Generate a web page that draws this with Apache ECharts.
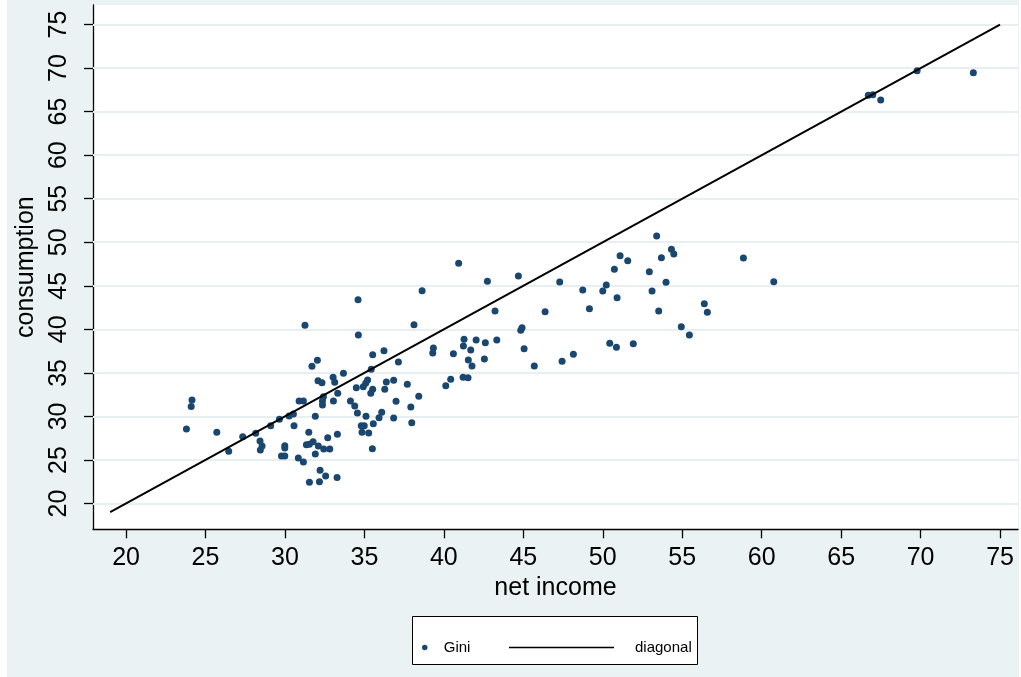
<!DOCTYPE html>
<html>
<head>
<meta charset="utf-8">
<title>Gini: consumption vs net income</title>
<script src="https://cdn.jsdelivr.net/npm/echarts@6/dist/echarts.min.js"></script>
<style>
  html, body { margin: 0; padding: 0; background: #ffffff; }
  #chart { width: 1021px; height: 677px; }
</style>
</head>
<body>
<div id="chart"></div>
<script>
// Gini coefficients: net income (x) vs consumption (y)
const giniIncome = [
  31.26, 32.04, 31.70, 33.68, 32.08, 32.33, 33.03, 33.13, 34.49, 24.15,
  24.10, 30.89, 31.16, 32.42, 32.36, 32.36, 33.05, 33.32, 34.12, 34.39,
  34.56, 31.91, 30.26, 30.53, 29.65, 29.10, 28.16, 27.34, 25.71, 23.80,
  26.46, 28.43, 28.56, 28.45, 30.57, 31.50, 31.35, 31.54, 31.77, 32.10,
  32.44, 32.82, 32.69, 33.30, 31.91, 29.99, 29.99, 29.78, 29.99, 30.84,
  31.16, 32.21, 31.54, 32.17, 32.56, 33.28,
  38.63, 34.60, 38.12, 34.62, 39.34, 39.30, 40.60, 35.52, 36.23, 37.14,
  35.43, 35.20, 35.08, 34.93, 36.38, 36.28, 36.84, 37.70, 35.52, 35.40,
  35.10, 35.92, 36.09, 36.99, 37.92, 38.42, 36.84, 37.98, 35.56, 34.80,
  34.99, 34.85, 35.27, 35.50,
  40.93, 44.69, 42.74, 47.29, 43.22, 46.37, 44.84, 44.92, 41.27, 41.23,
  42.03, 42.61, 43.33, 41.69, 42.55, 41.54, 41.77, 45.05, 45.69, 47.44,
  48.15, 41.21, 41.52, 40.43, 40.12,
  53.39, 54.32, 54.47, 53.69, 51.09, 51.57, 50.73, 52.93, 58.85, 50.22,
  50.00, 48.74, 53.98, 53.10, 50.90, 60.76, 49.16, 53.52, 56.39, 56.58,
  54.94, 55.45, 50.44, 50.86, 51.92,
  66.71, 66.99, 67.49, 69.78, 73.32
];
const giniConsumption = [
  40.46, 36.44, 35.75, 34.95, 34.10, 33.87, 34.49, 33.92, 33.30, 31.90,
  31.15, 31.77, 31.77, 32.26, 31.77, 31.31, 31.77, 32.65, 31.77, 31.20,
  30.39, 30.01, 30.05, 30.28, 29.67, 28.93, 28.06, 27.67, 28.17, 28.55,
  26.00, 27.18, 26.60, 26.14, 28.93, 28.17, 26.75, 26.80, 27.10, 26.60,
  26.26, 26.26, 27.56, 27.95, 25.68, 26.64, 26.37, 25.45, 25.45, 25.22,
  24.77, 23.81, 22.43, 22.50, 23.16, 23.00,
  44.44, 43.40, 40.53, 39.35, 37.86, 37.28, 37.20, 37.09, 37.55, 36.25,
  35.41, 34.18, 33.80, 33.41, 33.95, 33.11, 34.15, 33.69, 33.11, 32.65,
  30.01, 29.85, 30.47, 31.74, 31.08, 32.31, 29.82, 29.28, 29.16, 28.93,
  28.93, 28.18, 28.10, 26.29,
  47.58, 46.12, 45.51, 45.43, 42.10, 42.02, 39.89, 40.19, 38.85, 38.09,
  38.77, 38.46, 38.77, 37.63, 36.59, 36.48, 35.79, 37.78, 35.79, 36.33,
  37.13, 34.49, 34.44, 34.26, 33.53,
  50.72, 49.19, 48.65, 48.22, 48.46, 47.88, 46.89, 46.62, 48.19, 45.09,
  44.40, 44.52, 45.40, 44.40, 43.63, 45.47, 42.37, 42.10, 42.94, 41.95,
  40.30, 39.35, 38.40, 37.94, 38.35,
  66.87, 66.94, 66.33, 69.70, 69.47
];
// 45-degree reference line endpoints
const diagonalX = [19, 75];
const diagonalY = [19, 75];
// Tick labels shared by both axes
const tickValues = [20, 25, 30, 35, 40, 45, 50, 55, 60, 65, 70, 75];
const seriesNames = ['Gini', 'diagonal'];
const axisTitles = { x: 'net income', y: 'consumption' };

const FONT = '"Liberation Sans", Arial, Helvetica, sans-serif';
const NAVY = '#1a476f';
const BG = '#eaf2f3';
const GRID_LINE = '#e8eff1';

const giniPoints = giniIncome.map((v, i) => [v, giniConsumption[i]]);
const diagonalPoints = diagonalX.map((v, i) => [v, diagonalY[i]]);

const chart = echarts.init(document.getElementById('chart'), null, { renderer: 'canvas' });

const option = {
  backgroundColor: BG,
  animation: false,
  textStyle: { fontFamily: FONT, color: '#000' },
  graphic: [
    // white margins around the graph region
    { type: 'rect', left: 0, top: 0, shape: { width: 7, height: 677 }, style: { fill: '#fff' }, silent: true },
    { type: 'rect', left: 1019, top: 0, shape: { width: 2, height: 677 }, style: { fill: '#fff' }, silent: true },
    // legend frame
    { type: 'rect', left: 412, top: 616, z: -1,
      shape: { x: 0.5, y: 0.5, width: 285, height: 48 },
      style: { fill: '#fff', stroke: '#000', lineWidth: 1 }, silent: true }
  ],
  grid: {
    left: 93, top: 5, width: 925, height: 524.3,
    show: true, backgroundColor: '#fff', borderWidth: 0
  },
  xAxis: {
    type: 'value',
    min: 17.92, max: 76.13,
    name: axisTitles.x,
    nameLocation: 'middle',
    nameGap: 39,
    nameTextStyle: { fontSize: 25, color: '#000', fontFamily: FONT },
    axisLine: { show: true, onZero: false, lineStyle: { color: '#000', width: 1.3 } },
    axisTick: { show: true, length: 9, customValues: tickValues, lineStyle: { color: '#000', width: 1.3 } },
    axisLabel: { customValues: tickValues, fontSize: 25, color: '#000', margin: 16, fontFamily: FONT },
    splitLine: { show: false }
  },
  yAxis: {
    type: 'value',
    min: 17.04, max: 77.24,
    name: axisTitles.y,
    nameLocation: 'middle',
    nameGap: 41,
    nameTextStyle: { fontSize: 25, color: '#000', fontFamily: FONT },
    axisLine: { show: true, onZero: false, lineStyle: { color: '#000', width: 1.3 } },
    axisTick: { show: true, length: 9, customValues: tickValues, lineStyle: { color: '#000', width: 1.3 } },
    axisLabel: { customValues: tickValues, fontSize: 25, color: '#000', rotate: 90, margin: 21, fontFamily: FONT },
    splitLine: { show: false }
  },
  legend: [
    {
      data: [seriesNames[0]],
      left: 417, top: 635,
      orient: 'horizontal',
      itemWidth: 28, itemHeight: 5.5,
      icon: 'circle',
      textStyle: { fontSize: 15, color: '#000', fontFamily: FONT },
      selectedMode: false
    },
    {
      data: [{ name: seriesNames[1], icon: 'rect' }],
      left: 504, top: 635,
      orient: 'horizontal',
      itemWidth: 105, itemHeight: 1.4,
      itemStyle: { color: '#000' },
      textStyle: { fontSize: 15, color: '#000', fontFamily: FONT, padding: [0, 0, 0, 16] },
      selectedMode: false
    }
  ],
  series: [
    {
      // horizontal grid lines at the y tick values
      type: 'line',
      data: [],
      silent: true,
      z: 1,
      markLine: {
        silent: true,
        z: 1,
        symbol: ['none', 'none'],
        label: { show: false },
        lineStyle: { color: GRID_LINE, width: 2, type: 'solid' },
        data: tickValues.map(v => ({ yAxis: v }))
      }
    },
    {
      name: seriesNames[0],
      type: 'scatter',
      data: giniPoints,
      symbol: 'circle',
      symbolSize: 7,
      itemStyle: { color: NAVY, opacity: 1 },
      z: 3
    },
    {
      name: seriesNames[1],
      type: 'line',
      data: diagonalPoints,
      symbol: 'none',
      lineStyle: { color: '#000', width: 2 },
      itemStyle: { color: '#000' },
      z: 4
    }
  ]
};

chart.setOption(option);
</script>
</body>
</html>
